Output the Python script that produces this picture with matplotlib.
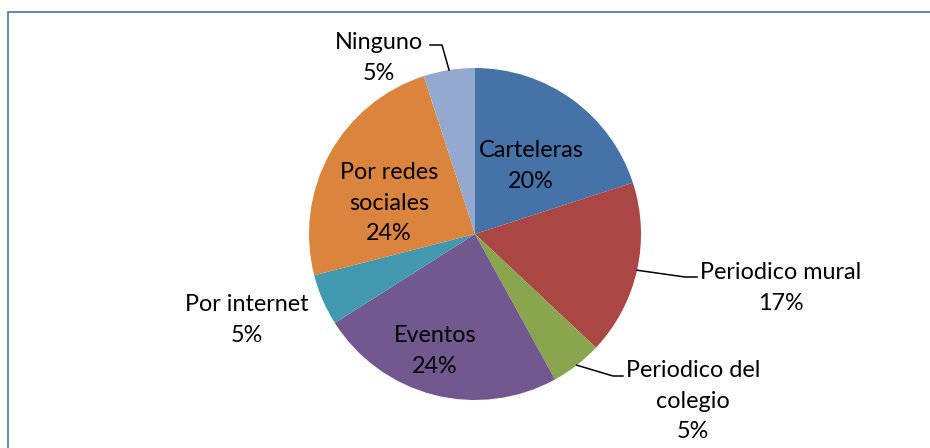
import numpy as np
import matplotlib.pyplot as plt
from matplotlib.patches import Rectangle

# datos del grafico (orden horario desde las 12)
categorias = ['Carteleras', 'Periodico mural', 'Periodico del\ncolegio', 'Eventos',
              'Por internet', 'Por redes\nsociales', 'Ninguno']
porcentajes = [20, 17, 5, 24, 5, 24, 5]
colores = ['#4572A7', '#AA4643', '#89A54E', '#71588F', '#4198AF', '#DB843D', '#93A9CF']

W, H = 930, 448


def main():
    fig = plt.figure(figsize=(W / 100, H / 100), dpi=100)
    ax = fig.add_axes([0, 0, 1, 1])

    cx, cy, r = 475, H - 234, 166
    wedges, _ = ax.pie(porcentajes, colors=colores, startangle=90, counterclock=False,
                       center=(cx, cy), radius=r, frame=True,
                       wedgeprops=dict(linewidth=0))
    ax.set_xlim(0, W)
    ax.set_ylim(0, H)
    ax.set_aspect('equal')
    ax.axis('off')

    # marco del grafico
    ax.add_patch(Rectangle((8, -20), 960, H - 12 + 20, fill=False,
                           edgecolor='#4F6EA8', linewidth=1.2))

    fs = 16.8
    fam = ['Lato', 'DejaVu Sans']
    # posiciones de etiquetas (pixeles desde arriba)
    pos = [(531, 166), (781, 288), (693, 401), (435, 351),
           (247, 320), (389, 203), (379, 58)]
    # codos de lineas guia (None = sin linea)
    guias = [None, [(685, 277), (697, 277)], [(613, 376), (623, 376)], None,
             None, None, [(442, 45), (430, 45)]]

    for w, cat, p, (lx, ly), g in zip(wedges, categorias, porcentajes, pos, guias):
        ax.text(lx, H - ly, f'{cat}\n{p}%', ha='center', va='center',
                fontsize=fs, family=fam, color='black', linespacing=1.58)
        if g is not None:
            ang = np.deg2rad((w.theta1 + w.theta2) / 2)
            x0 = cx + r * np.cos(ang)
            y0 = cy + r * np.sin(ang)
            xs = [x0] + [q[0] for q in g]
            ys = [y0] + [H - q[1] for q in g]
            ax.plot(xs, ys, color='black', linewidth=1.1)

    fig.savefig('out.png', dpi=100)


if __name__ == '__main__':
    main()
